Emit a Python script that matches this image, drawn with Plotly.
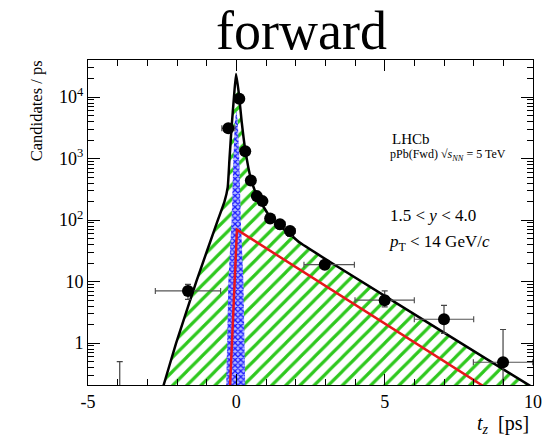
import plotly.graph_objects as go

# ---------------- data ----------------
# data points
pt_t = [-1.63, -0.27, 0.10, 0.30, 0.49, 0.69, 0.88, 1.14, 1.47, 1.81, 2.98, 5.0, 7.0, 8.99]
pt_v = [7.07, 3130, 9400, 1320, 443, 246, 204, 106, 86, 66.5, 18.9, 5.0, 2.45, 0.49]
pt_ex_minus = [1.1, 0.22, 0.1, 0.1, 0.1, 0.1, 0.1, 0.15, 0.17, 0.17, 0.7, 1.0, 1.0, 1.0]
pt_ex_plus = [1.1, 0.22, 0.1, 0.1, 0.1, 0.1, 0.1, 0.15, 0.17, 0.17, 1.0, 1.0, 1.0, 1.0]
pt_ey_plus = [2.0, 250, 400, 100, 40, 25, 25, 12, 14, 12, 2.5, 2.07, 1.68, 1.18]
pt_ey_minus = [1.9, 250, 400, 100, 40, 25, 25, 12, 14, 12, 2.5, 1.12, 1.01, 0.48]

# empty bin with upper error only
zero_t = [-3.93]
zero_v = [0.1]
zero_ey_plus = [0.4]

# total fit (black)
fit_t = [-2.55, -2.45, -2.03, -1.35, -0.63, -0.40, -0.29, -0.23, -0.16, -0.08, -0.01,
         0.08, 0.18, 0.30, 0.49, 0.70, 0.90, 1.15, 1.50, 1.80, 2.11, 3.16, 9.89, 10.0]
fit_v = [0.145, 0.209, 1.0, 10, 98, 200, 345, 1000, 3240, 10000, 23900,
         12000, 4000, 1400, 470, 250, 170, 110, 78, 60, 44, 20.9, 0.204, 0.19]

# non-prompt component (red)
np_t = [-0.22, 0.02, 8.4]
np_v = [0.16, 70, 0.19]

# prompt component (blue band)
pr_t = [-0.36, -0.35, -0.31, -0.27, -0.16, -0.10, -0.05, 0.0, 0.05, 0.10, 0.15, 0.24, 0.28, 0.30, 0.31]
pr_v = [0.1, 0.21, 1, 10, 100, 1000, 4000, 6000, 4000, 1000, 100, 10, 1, 0.21, 0.1]

floor_v = 0.1

x_tickvals = [-5, 0, 5, 10]
x_ticktext = ["-5", "0", "5", "10"]
x_minor = [-4, -3, -2, -1, 1, 2, 3, 4, 6, 7, 8, 9]
y_tickvals = [1, 10, 100, 1000, 10000]
y_ticktext = ["1", "10", "10<sup>2</sup>", "10<sup>3</sup>", "10<sup>4</sup>"]
y_minor = [m * 10 ** d for d in range(-1, 5) for m in range(2, 10)]

FONT = "Liberation Serif"

fig = go.Figure()

# green hatched total
g_t = fit_t + [fit_t[-1], fit_t[0]]
g_v = fit_v + [floor_v, floor_v]
fig.add_trace(go.Scatter(
    x=g_t, y=g_v, mode="lines", fill="toself",
    line=dict(width=0, color="rgba(0,0,0,0)"),
    fillcolor="rgba(0,0,0,0)",
    fillpattern=dict(shape="/", fgcolor="#2ec81e", bgcolor="rgba(0,0,0,0)",
                     size=10, solidity=0.32, fillmode="replace"),
    hoverinfo="skip", showlegend=False))

# blue cross-hatched prompt band
fig.add_trace(go.Scatter(
    x=pr_t, y=pr_v, mode="lines", fill="toself",
    line=dict(width=0, color="rgba(0,0,0,0)"),
    fillcolor="rgba(0,0,0,0)",
    fillpattern=dict(shape="x", fgcolor="#1a1aff", bgcolor="#b4bcff",
                     size=4, solidity=0.55, fillmode="replace"),
    hoverinfo="skip", showlegend=False))

# red non-prompt
fig.add_trace(go.Scatter(x=np_t, y=np_v, mode="lines",
                         line=dict(color="#e8151b", width=2.5), showlegend=False))

# black total fit
fig.add_trace(go.Scatter(x=fit_t, y=fit_v, mode="lines", line_shape="spline",
                         line=dict(color="black", width=2.5, smoothing=0.4), showlegend=False))

# empty bin
fig.add_trace(go.Scatter(
    x=zero_t, y=zero_v, mode="markers",
    marker=dict(size=1, color="rgba(0,0,0,0)"),
    error_y=dict(type="data", array=zero_ey_plus, arrayminus=[0], color="#444",
                 thickness=1.2, width=3),
    showlegend=False))

# data points
fig.add_trace(go.Scatter(
    x=pt_t, y=pt_v, mode="markers",
    marker=dict(size=12, color="black"),
    error_x=dict(type="data", array=pt_ex_plus, arrayminus=pt_ex_minus, color="#555",
                 thickness=1.2, width=3),
    error_y=dict(type="data", array=pt_ey_plus, arrayminus=pt_ey_minus, color="#444",
                 thickness=1.2, width=3),
    showlegend=False))

axis_common = dict(showline=True, linecolor="black", linewidth=1, mirror="ticks",
                   ticks="inside", showgrid=False, zeroline=False,
                   tickfont=dict(family=FONT, size=18, color="black"))

fig.update_xaxes(range=[-5, 10], tickmode="array", tickvals=x_tickvals, ticktext=x_ticktext,
                 ticklen=11, tickcolor="black",
                 minor=dict(tickmode="array", tickvals=x_minor, ticks="inside", ticklen=6,
                            tickcolor="black", showgrid=False),
                 **axis_common)
fig.update_yaxes(type="log", range=[-0.68, 4.604], tickmode="array", tickvals=y_tickvals,
                 ticktext=y_ticktext, ticklen=12, tickcolor="black",
                 minor=dict(tickmode="array", tickvals=y_minor, ticks="inside", ticklen=6,
                            tickcolor="black", showgrid=False),
                 **axis_common)

W, H = 554, 439
L, R, T, B = 88, 19, 60, 54
pw, ph = W - L - R, H - T - B


def px(xp):
    return (xp - L) / pw


def py(yp):
    return (H - B - yp) / ph


annots = [
    dict(text="forward", x=px(302), y=py(31), font=dict(size=54)),
    dict(text="Candidates / ps", x=px(36), y=py(111), textangle=-90, font=dict(size=16.5)),
    dict(text="<i>t</i><sub><i>z</i></sub>  [ps]", x=px(533), y=py(424), xanchor="right",
         font=dict(size=20)),
    dict(text="LHCb", x=px(391), y=py(139), xanchor="left", font=dict(size=15)),
    dict(text="pPb(Fwd) √<i>s</i><sub><i>NN</i></sub> = 5 TeV", x=px(389), y=py(155),
         xanchor="left", font=dict(size=12)),
    dict(text="1.5 < <i>y</i> < 4.0", x=px(389), y=py(215), xanchor="left", font=dict(size=17)),
    dict(text="<i>p</i><sub>T</sub> < 14 GeV/<i>c</i>", x=px(388), y=py(243), xanchor="left",
         font=dict(size=17)),
]
for a in annots:
    a.setdefault("xanchor", "center")
    a["font"] = dict(family=FONT, color="black", size=a["font"]["size"])
    fig.add_annotation(xref="paper", yref="paper", yanchor="middle", showarrow=False, **a)

fig.update_layout(width=W, height=H, autosize=False,
                  margin=dict(l=L, r=R, t=T, b=B),
                  paper_bgcolor="white", plot_bgcolor="white",
                  font=dict(family=FONT, color="black"), showlegend=False)

fig.write_html("out.html", config={"displayModeBar": False},
               post_script="document.body.style.margin='0';document.body.style.overflow='hidden';")
